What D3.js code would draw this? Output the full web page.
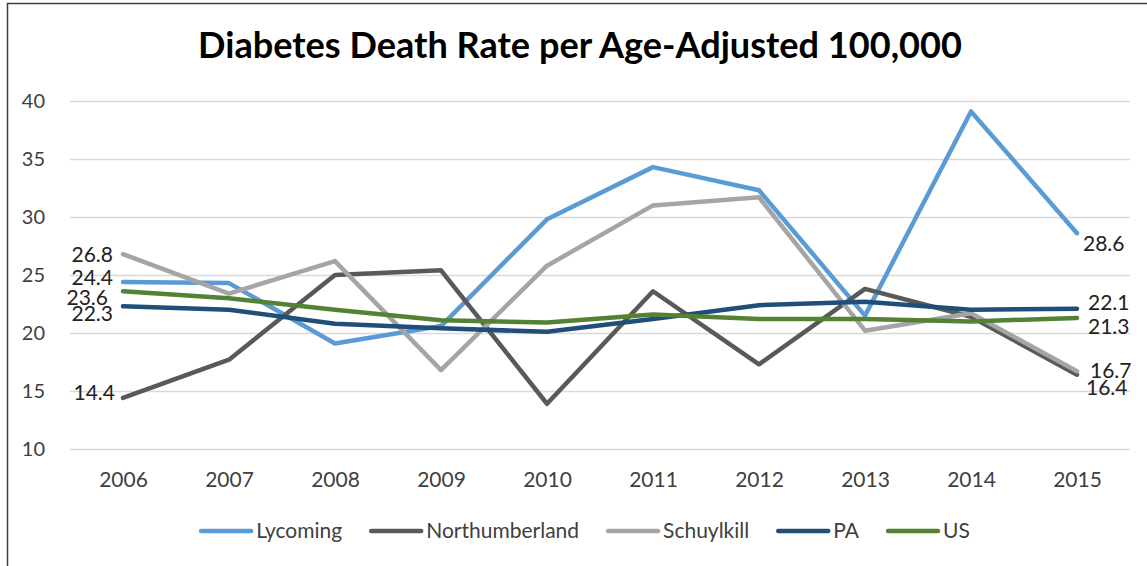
<!DOCTYPE html>
<html>
<head>
<meta charset="utf-8">
<script src="https://cdn.jsdelivr.net/npm/d3@7"></script>
<style>
  body { margin: 0; background: #fff; }
  text { font-family: Lato, "Open Sans", sans-serif; }
</style>
</head>
<body>
<script>
// chart data
var years = ["2006", "2007", "2008", "2009", "2010", "2011", "2012", "2013", "2014", "2015"];
var seriesNames = ["Lycoming", "Northumberland", "Schuylkill", "PA", "US"];
var lycoming = [24.4, 24.3, 19.1, 20.6, 29.8, 34.3, 32.3, 21.5, 39.1, 28.6];
var northumberland = [14.4, 17.7, 25.0, 25.4, 13.9, 23.6, 17.3, 23.8, 21.4, 16.4];
var schuylkill = [26.8, 23.4, 26.2, 16.8, 25.8, 31.0, 31.7, 20.2, 21.7, 16.7];
var pa = [22.3, 22.0, 20.8, 20.4, 20.1, 21.2, 22.4, 22.7, 22.0, 22.1];
var us = [23.6, 23.0, 22.0, 21.1, 20.9, 21.6, 21.2, 21.2, 21.0, 21.3];
var yTicks = [10, 15, 20, 25, 30, 35, 40];
var colors = ["#5B9BD5", "#595959", "#A5A5A5", "#1F4E79", "#548235"];

var allSeries = [lycoming, northumberland, schuylkill, pa, us];

// label nudges (first point: left side, last point: right side)
var firstNudge = [[-10, -4], [-8, -5], [-10, 1], [-10, 7], [-15, 6]];
var lastNudge = [[6, 10], [9, 13], [13, -1], [11, -6], [11, 9]];

var svgWidth = 1147, svgHeight = 566;
var plot = { left: 70, right: 1130, top: 101, bottom: 449 };

var svg = d3.select("body").append("svg")
  .attr("width", svgWidth)
  .attr("height", svgHeight);

// chart frame (cropped on the right and bottom)
svg.append("rect")
  .attr("x", 7.5).attr("y", 3.5)
  .attr("width", svgWidth + 20).attr("height", svgHeight + 20)
  .attr("fill", "#fff")
  .attr("stroke", "#3f3f3f")
  .attr("stroke-width", 1.5);

var x = d3.scalePoint().domain(years).range([plot.left, plot.right]).padding(0.5);
var y = d3.scaleLinear().domain([10, 40]).range([plot.bottom, plot.top]);

// title, sized to the reference width
var title = svg.append("text")
  .attr("x", 580).attr("y", 58)
  .attr("text-anchor", "middle")
  .attr("font-weight", "bold")
  .attr("font-size", 30)
  .attr("fill", "#000")
  .text("Diabetes Death Rate per Age-Adjusted 100,000");
var tw = title.node().getComputedTextLength();
title.attr("font-size", 30 * 764 / tw);

// y axis with gridlines
var yAxis = svg.append("g")
  .attr("transform", "translate(" + plot.left + ",0)")
  .call(d3.axisLeft(y).tickValues(yTicks).tickSize(-(plot.right - plot.left)).tickPadding(25));
yAxis.select(".domain").remove();
yAxis.selectAll("line").attr("stroke", "#d9d9d9").attr("stroke-width", 1.5);
yAxis.selectAll("text").attr("font-size", 20).attr("fill", "#404040");

// x axis labels
var xAxis = svg.append("g")
  .attr("transform", "translate(0," + plot.bottom + ")")
  .call(d3.axisBottom(x).tickSize(0));
xAxis.select(".domain").remove();
xAxis.selectAll("text")
  .attr("y", 31).attr("dy", "0.35em")
  .attr("font-size", 21).attr("fill", "#404040");

// lines
var line = d3.line()
  .x(function(d, i) { return x(years[i]); })
  .y(function(d) { return y(d); });

svg.append("g").selectAll("path")
  .data(allSeries)
  .enter().append("path")
  .attr("d", line)
  .attr("fill", "none")
  .attr("stroke", function(d, i) { return colors[i]; })
  .attr("stroke-width", 4.5)
  .attr("stroke-linejoin", "round")
  .attr("stroke-linecap", "round");

// data labels
var labels = svg.append("g").attr("font-size", 21).attr("fill", "#222");
allSeries.forEach(function(s, i) {
  var n = s.length - 1;
  labels.append("text")
    .attr("x", x(years[0]) + firstNudge[i][0])
    .attr("y", y(s[0]) + firstNudge[i][1])
    .attr("dy", "0.35em")
    .attr("text-anchor", "end")
    .text(s[0].toFixed(1));
  labels.append("text")
    .attr("x", x(years[n]) + lastNudge[i][0])
    .attr("y", y(s[n]) + lastNudge[i][1])
    .attr("dy", "0.35em")
    .text(s[n].toFixed(1));
});

// legend, centred under the plot
var legend = svg.append("g");
var lx = 0, ly = 531;
seriesNames.forEach(function(name, i) {
  legend.append("line")
    .attr("x1", lx).attr("x2", lx + 50)
    .attr("y1", ly).attr("y2", ly)
    .attr("stroke", colors[i])
    .attr("stroke-width", 4.5)
    .attr("stroke-linecap", "round");
  var t = legend.append("text")
    .attr("x", lx + 55).attr("y", ly)
    .attr("dy", "0.35em")
    .attr("font-size", 21)
    .attr("fill", "#404040")
    .text(name);
  lx += 55 + t.node().getComputedTextLength();
  if (i < seriesNames.length - 1) lx += 29;
});
legend.attr("transform", "translate(" + (585.5 - lx / 2) + ",0)");
</script>
</body>
</html>
